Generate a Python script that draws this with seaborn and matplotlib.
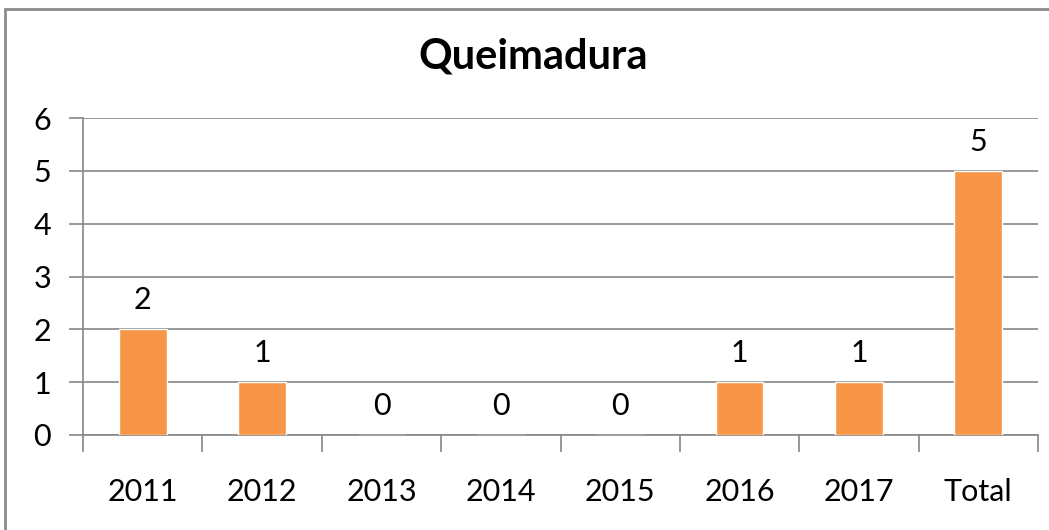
import matplotlib.pyplot as plt
import numpy as np
import pandas as pd
import seaborn as sns
from matplotlib.patches import Rectangle

CATEGORIES = ["2011", "2012", "2013", "2014", "2015", "2016", "2017", "Total"]
VALUES = [2, 1, 0, 0, 0, 1, 1, 5]
TITLE = "Queimadura"
Y_TICKS = [0, 1, 2, 3, 4, 5, 6]

BAR_COLOR = "#F79646"
GRID_COLOR = "#868686"


def main():
    sns.set_theme(style="white")
    plt.rcParams["font.family"] = ["Lato", "DejaVu Sans"]
    plt.rcParams["text.color"] = "black"
    plt.rcParams["xtick.color"] = "black"
    plt.rcParams["ytick.color"] = "black"

    df = pd.DataFrame({"ano": CATEGORIES, "casos": VALUES})

    fig = plt.figure(figsize=(10.49, 5.30), dpi=100)
    ax = fig.add_axes([83 / 1049, 1 - 435 / 530, (1038 - 83) / 1049, (435 - 118) / 530])

    sns.barplot(data=df, x="ano", y="casos", color=BAR_COLOR, saturation=1,
                width=0.4, ax=ax, zorder=3)

    ax.set_ylim(0, 6)
    ax.set_xlim(-0.5, len(CATEGORIES) - 0.5)
    ax.set_yticks(Y_TICKS)
    ax.yaxis.grid(True, color=GRID_COLOR, linewidth=1.2)
    ax.set_axisbelow(True)
    ax.set_xlabel("")
    ax.set_ylabel("")

    for side in ["top", "right"]:
        ax.spines[side].set_visible(False)
    for side in ["left", "bottom"]:
        ax.spines[side].set_color(GRID_COLOR)
        ax.spines[side].set_linewidth(1.2)

    ax.tick_params(axis="y", which="major", length=10, width=1.2, color=GRID_COLOR,
                   labelsize=22, pad=13, left=True, labelcolor="black")
    ax.tick_params(axis="x", which="major", length=0, labelsize=22, pad=31,
                   labelcolor="black")
    ax.set_xticks(np.arange(-0.5, len(CATEGORIES)), minor=True)
    ax.tick_params(axis="x", which="minor", length=12, width=1.2, color=GRID_COLOR,
                   bottom=True)

    for i, v in enumerate(VALUES):
        ax.annotate(str(v), (i, v), xytext=(0, 11), textcoords="offset points",
                    ha="center", va="bottom", fontsize=22, color="black")

    fig.text(533 / 1049, 1 - 57 / 530, TITLE, ha="center", va="center",
             fontsize=30, fontweight="bold", color="black")

    # chart frame
    fig.patches.append(Rectangle((5 / 1049, -0.1), 1.2, 1 - 9 / 530 + 0.1,
                                 transform=fig.transFigure, fill=False,
                                 edgecolor="#8c8c8c", linewidth=2))

    fig.savefig("out.png", dpi=100)
    plt.close(fig)


if __name__ == "__main__":
    main()
